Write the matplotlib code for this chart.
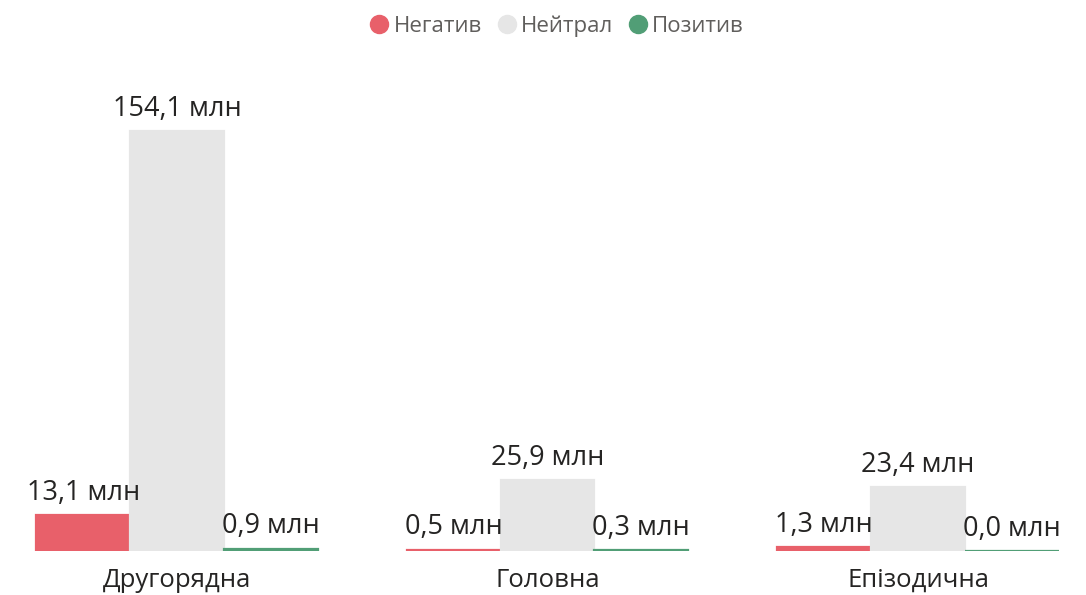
import matplotlib
matplotlib.use("Agg")
import matplotlib.pyplot as plt
import numpy as np

plt.rcParams["font.family"] = ["Open Sans", "DejaVu Sans"]

categories = ["Другорядна", "Головна", "Епізодична"]
series_names = ["Негатив", "Нейтрал", "Позитив"]
negative = [13.1, 0.5, 1.3]
neutral = [154.1, 25.9, 23.4]
positive = [0.9, 0.3, 0.0]
colors = ["#E8606A", "#E6E6E6", "#519E76"]

fig = plt.figure(figsize=(10.86, 5.95), dpi=100)
ax = fig.add_axes([0, 44 / 595, 1, 491 / 595])

x = np.arange(len(categories))
width = 0.253
series = [negative, neutral, positive]
for i, (vals, col) in enumerate(zip(series, colors)):
    pos = x + (i - 1) * width
    ax.bar(pos, vals, width, color=col, edgecolor=col, linewidth=1.6)
    for px, v in zip(pos, vals):
        ax.annotate(f"{v:.1f}".replace(".", ",") + " млн", (px, v),
                    xytext=(0, 6), textcoords="offset points",
                    ha="center", va="bottom", fontsize=19.5, color="#252423")

ax.set_xlim(-177 / 370.5, 2 + 168 / 370.5)
ax.set_ylim(0, 154.1 * 491 / 420)
ax.set_xticks(x)
ax.set_xticklabels(categories, fontsize=18.5, color="#252423")
ax.tick_params(axis="x", length=0, pad=12)
ax.set_yticks([])
for s in ax.spines.values():
    s.set_visible(False)

handles = [plt.Line2D([], [], marker="o", linestyle="", markersize=13,
                      markerfacecolor=c, markeredgecolor=c) for c in colors]
fig.legend(handles, series_names, loc="upper center", bbox_to_anchor=(0.507, 1.0),
           ncol=3, frameon=False, fontsize=16, labelcolor="#605E5C",
           handletextpad=-0.35, columnspacing=0.1, borderaxespad=0.3)

fig.savefig("out.png", dpi=100)
